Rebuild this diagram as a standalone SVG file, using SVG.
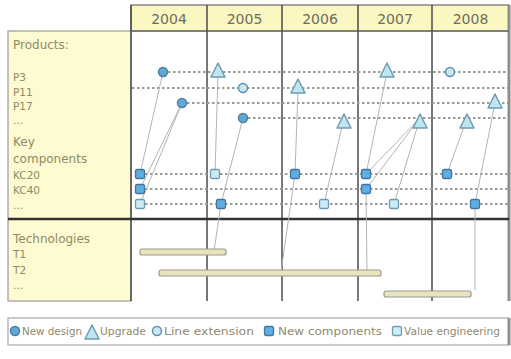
<svg xmlns="http://www.w3.org/2000/svg" xmlns:xlink="http://www.w3.org/1999/xlink" width="511" height="359" viewBox="0 0 511 359">
  <style>
    .lbl { font-family: "DejaVu Sans", "Liberation Sans", sans-serif; font-size: 12px; fill: #8f8a6c; }
    .sm { font-size: 10.5px; }
    .yr { font-family: "DejaVu Sans", "Liberation Sans", sans-serif; font-size: 14px; fill: #6e6c5c; text-anchor: middle; }
    .leg { font-family: "DejaVu Sans", "Liberation Sans", sans-serif; font-size: 10.5px; fill: #8f8a6c; }
    .col { stroke: #4a4a4a; stroke-width: 1.5; }
    .row { stroke: #9a9a9a; stroke-width: 2; stroke-dasharray: 2.5 2.5; fill: none; }
    .link { stroke: #b4b4b4; stroke-width: 1; fill: none; }
    .nd { fill: #5ea9d6; stroke: #4d7f9e; stroke-width: 1.5; }
    .le { fill: #c9e7f2; stroke: #5f90b0; stroke-width: 1.5; }
    .up { fill: #bfe6f0; stroke: #6f9cb2; stroke-width: 1.5; stroke-linejoin: round; }
    .nc { fill: #5eaee2; stroke: #44759a; stroke-width: 1.3; }
    .ve { fill: #cdebf3; stroke: #6f9cb2; stroke-width: 1.3; }
    .bar { fill: #e9e4bd; stroke: #9a9a8e; stroke-width: 1.2; }
  </style>
  <defs>
    <circle id="mNew" r="4.5" class="nd"/>
    <circle id="mExt" r="4.5" class="le"/>
    <path id="mUp" d="M0,-9 L7,5 L-7,5 Z" class="up"/>
    <rect id="mComp" x="-4.5" y="-4.5" width="9" height="9" rx="1.5" class="nc"/>
    <rect id="mVal" x="-4.5" y="-4.5" width="9" height="9" rx="1.5" class="ve"/>
  </defs>

  <!-- frame: year header, label column, grid -->
  <g id="frame">
    <rect x="0" y="0" width="511" height="359" fill="#ffffff"/>
    <rect x="131" y="5" width="378" height="26" fill="#fbf7c3" stroke="#6a6a6a" stroke-width="1.2"/>
    <rect x="8" y="31" width="123" height="270" fill="#fdfbcf" stroke="#9a9a9a" stroke-width="1.2"/>
    <line class="col" x1="131" y1="5" x2="131" y2="301"/>
    <line class="col" x1="207" y1="5" x2="207" y2="301"/>
    <line class="col" x1="282" y1="5" x2="282" y2="301"/>
    <line class="col" x1="358" y1="5" x2="358" y2="301"/>
    <line class="col" x1="432" y1="5" x2="432" y2="301"/>
    <line x1="509" y1="5" x2="509" y2="301" stroke="#8e8e8e" stroke-width="3"/>
    <line x1="131" y1="31" x2="509" y2="31" stroke="#5a5a5a" stroke-width="1.2"/>
    <line x1="8" y1="219" x2="509" y2="219" stroke="#333333" stroke-width="2.5"/>
  </g>

  <g id="years">
    <text class="yr" x="169" y="24">2004</text>
    <text class="yr" x="244.5" y="24">2005</text>
    <text class="yr" x="320" y="24">2006</text>
    <text class="yr" x="395" y="24">2007</text>
    <text class="yr" x="470.5" y="24">2008</text>
  </g>

  <g id="labels">
    <text class="lbl" x="13" y="49">Products:</text>
    <text class="lbl sm" x="13" y="81">P3</text>
    <text class="lbl sm" x="13" y="96">P11</text>
    <text class="lbl sm" x="13" y="110">P17</text>
    <text class="lbl sm" x="13" y="124" fill="#c0bca0">...</text>
    <text class="lbl" x="13" y="146">Key</text>
    <text class="lbl" x="13" y="163">components</text>
    <text class="lbl sm" x="13" y="179">KC20</text>
    <text class="lbl sm" x="13" y="194">KC40</text>
    <text class="lbl sm" x="13" y="209" fill="#c0bca0">...</text>
    <text class="lbl" x="13" y="243">Technologies</text>
    <text class="lbl sm" x="13" y="258">T1</text>
    <text class="lbl sm" x="13" y="274">T2</text>
    <text class="lbl sm" x="13" y="289" fill="#c0bca0">...</text>
  </g>

  <!-- timelines and dependency links -->
  <g id="connectors">
    <line class="row" x1="163" y1="72" x2="508" y2="72"/>
    <line class="row" x1="132" y1="88" x2="508" y2="88"/>
    <line class="row" x1="182" y1="103" x2="508" y2="103"/>
    <line class="row" x1="243" y1="118" x2="508" y2="118"/>
    <line class="row" x1="140" y1="174" x2="508" y2="174"/>
    <line class="row" x1="140" y1="189" x2="508" y2="189"/>
    <line class="row" x1="140" y1="204" x2="508" y2="204"/>

    <line class="link" x1="163" y1="72" x2="140" y2="174"/>
    <line class="link" x1="182" y1="103" x2="140" y2="189"/>
    <line class="link" x1="182" y1="103" x2="140" y2="204"/>
    <line class="link" x1="218" y1="72" x2="215" y2="174"/>
    <line class="link" x1="243" y1="118" x2="221" y2="204"/>
    <line class="link" x1="221" y1="204" x2="214" y2="251"/>
    <line class="link" x1="298" y1="88" x2="295" y2="174"/>
    <line class="link" x1="295" y1="174" x2="281" y2="272"/>
    <line class="link" x1="344" y1="118" x2="324" y2="204"/>
    <line class="link" x1="387" y1="72" x2="366" y2="174"/>
    <line class="link" x1="420" y1="118" x2="366" y2="174"/>
    <line class="link" x1="420" y1="118" x2="366" y2="189"/>
    <line class="link" x1="420" y1="118" x2="394" y2="204"/>
    <line class="link" x1="366" y1="189" x2="367" y2="272"/>
    <line class="link" x1="467" y1="118" x2="447" y2="174"/>
    <line class="link" x1="495" y1="103" x2="475" y2="204"/>
    <line class="link" x1="475" y1="204" x2="475" y2="290"/>
  </g>

  <g id="technologies">
    <rect class="bar" x="140" y="249" width="86" height="6" rx="2"/>
    <rect class="bar" x="159" y="270" width="222" height="6" rx="2"/>
    <rect class="bar" x="384" y="291" width="87" height="6" rx="2"/>
  </g>

  <g id="products">
    <use xlink:href="#mNew" x="163" y="72"/>
    <use xlink:href="#mUp" x="218" y="72"/>
    <use xlink:href="#mUp" x="387" y="72"/>
    <use xlink:href="#mExt" x="450" y="72"/>
    <use xlink:href="#mExt" x="243" y="88"/>
    <use xlink:href="#mUp" x="298" y="88"/>
    <use xlink:href="#mNew" x="182" y="103"/>
    <use xlink:href="#mUp" x="495" y="103"/>
    <use xlink:href="#mNew" x="243" y="118"/>
    <use xlink:href="#mUp" x="344" y="123"/>
    <use xlink:href="#mUp" x="420" y="123"/>
    <use xlink:href="#mUp" x="467" y="123"/>
  </g>

  <g id="components">
    <use xlink:href="#mComp" x="140" y="174"/>
    <use xlink:href="#mVal" x="215" y="174"/>
    <use xlink:href="#mComp" x="295" y="174"/>
    <use xlink:href="#mComp" x="366" y="174"/>
    <use xlink:href="#mComp" x="447" y="174"/>
    <use xlink:href="#mComp" x="140" y="189"/>
    <use xlink:href="#mComp" x="366" y="189"/>
    <use xlink:href="#mVal" x="140" y="204"/>
    <use xlink:href="#mComp" x="221" y="204"/>
    <use xlink:href="#mVal" x="324" y="204"/>
    <use xlink:href="#mVal" x="394" y="204"/>
    <use xlink:href="#mComp" x="475" y="204"/>
  </g>

  <g id="legend">
    <rect x="8" y="318" width="501" height="27" fill="#ffffff" stroke="#a8a8a8" stroke-width="1.2"/>
    <line x1="509" y1="318" x2="509" y2="345" stroke="#8e8e8e" stroke-width="3"/>
    <use xlink:href="#mNew" x="15" y="331"/>
    <text class="leg" x="22" y="335" textLength="60" lengthAdjust="spacingAndGlyphs">New design</text>
    <use xlink:href="#mUp" x="92" y="334"/>
    <text class="leg" x="100" y="335" textLength="46" lengthAdjust="spacingAndGlyphs">Upgrade</text>
    <use xlink:href="#mExt" x="157" y="331"/>
    <text class="leg" x="164" y="335" textLength="90" lengthAdjust="spacingAndGlyphs">Line extension</text>
    <use xlink:href="#mComp" x="269" y="331"/>
    <text class="leg" x="278" y="335" textLength="104" lengthAdjust="spacingAndGlyphs">New components</text>
    <use xlink:href="#mVal" x="397" y="331"/>
    <text class="leg" x="404" y="335" textLength="96" lengthAdjust="spacingAndGlyphs">Value engineering</text>
  </g>
</svg>
